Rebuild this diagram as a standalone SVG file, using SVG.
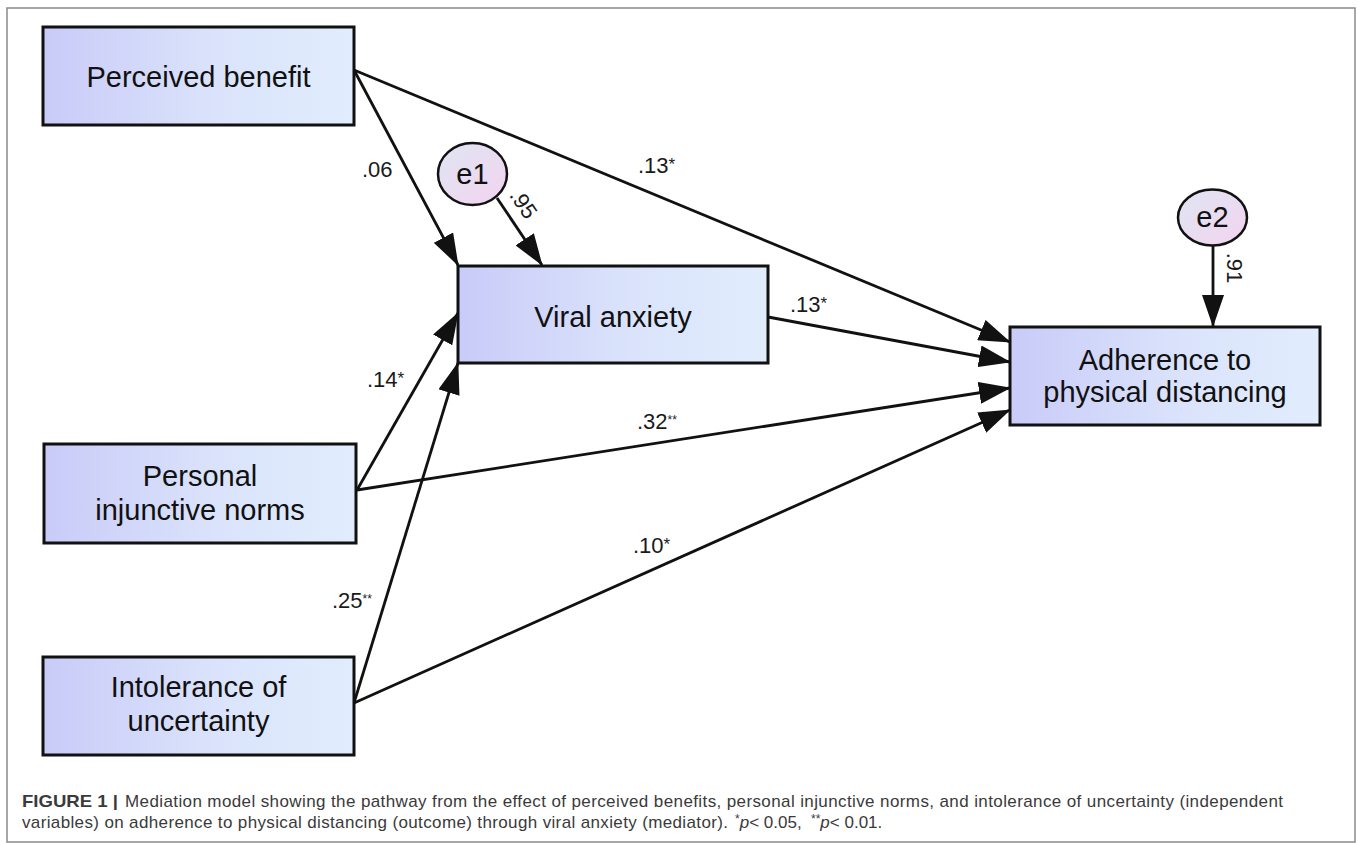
<svg xmlns="http://www.w3.org/2000/svg" width="1358" height="843" viewBox="0 0 1358 843">
<style>
.box{stroke:#111;stroke-width:3;fill:url(#boxg)}
.err{stroke:#111;stroke-width:2.5;fill:url(#errg)}
.nt{font-family:"Liberation Sans",Arial,sans-serif;font-size:29px;fill:#111;text-anchor:middle}
.lb{font-family:"Liberation Sans",Arial,sans-serif;font-size:22px;fill:#1a1a1a}
.st{font-size:17px}
.st2{font-size:12px}
.edge{stroke:#111;stroke-width:2.8;fill:none;marker-end:url(#arr)}
.cap{font-family:"Liberation Sans",Arial,sans-serif;font-size:17px;fill:#3a3a3a}
</style>
<defs>
<linearGradient id="boxg" x1="0" y1="0" x2="1" y2="0">
<stop offset="0" stop-color="#c9cbf8"/>
<stop offset="0.55" stop-color="#dae3fb"/>
<stop offset="1" stop-color="#e1edfd"/>
</linearGradient>
<linearGradient id="errg" x1="0" y1="0" x2="1" y2="1">
<stop offset="0" stop-color="#dfe6f2"/>
<stop offset="1" stop-color="#f3d3f0"/>
</linearGradient>
<marker id="arr" markerUnits="userSpaceOnUse" markerWidth="32" markerHeight="22" refX="31" refY="11" orient="auto">
<path d="M0,0 L32,11 L0,22 z" fill="#111"/>
</marker>
</defs>
<rect x="7" y="8" width="1348" height="834" fill="#fff" stroke="#8a8a8a" stroke-width="1.5"/>
<g id="connectors">
<line class="edge" x1="354" y1="70" x2="458" y2="265"/>
<line class="edge" x1="354" y1="70" x2="1010" y2="342"/>
<line class="edge" x1="497" y1="198" x2="542" y2="265"/>
<line class="edge" x1="357" y1="490" x2="458" y2="313"/>
<line class="edge" x1="354" y1="703" x2="458" y2="363"/>
<line class="edge" x1="768" y1="317" x2="1010" y2="362"/>
<line class="edge" x1="357" y1="490" x2="1010" y2="388"/>
<line class="edge" x1="354" y1="703" x2="1010" y2="410"/>
<line class="edge" x1="1213" y1="246" x2="1213" y2="326"/>
<text class="lb" x="362" y="177">.06</text>
<text class="lb" x="638" y="173">.13<tspan class="st" dy="-3">*</tspan></text>
<text class="lb" text-anchor="middle" transform="translate(523,204) rotate(56)" x="0" y="7">.95</text>
<text class="lb" text-anchor="middle" transform="translate(1234,268) rotate(90)" x="0" y="7">.91</text>
<text class="lb" x="790" y="312">.13<tspan class="st" dy="-3">*</tspan></text>
<text class="lb" x="367" y="387">.14<tspan class="st" dy="-3">*</tspan></text>
<text class="lb" x="637" y="429">.32<tspan class="st2" dy="-5">**</tspan></text>
<text class="lb" x="633" y="553">.10<tspan class="st" dy="-3">*</tspan></text>
<text class="lb" x="332" y="608">.25<tspan class="st2" dy="-5">**</tspan></text>
</g>
<g id="perceived-benefit">
<rect class="box" x="43" y="27" width="311" height="98"/>
<text class="nt" x="198.5" y="87">Perceived benefit</text>
</g>
<g id="viral-anxiety">
<rect class="box" x="458" y="266" width="310" height="97"/>
<text class="nt" x="613" y="327">Viral anxiety</text>
</g>
<g id="personal-injunctive-norms">
<rect class="box" x="44" y="444" width="312" height="99"/>
<text class="nt" x="200" y="486">Personal</text>
<text class="nt" x="200" y="520">injunctive norms</text>
</g>
<g id="intolerance-of-uncertainty">
<rect class="box" x="43" y="657" width="311" height="98"/>
<text class="nt" x="198.5" y="697">Intolerance of</text>
<text class="nt" x="198.5" y="731">uncertainty</text>
</g>
<g id="adherence">
<rect class="box" x="1010" y="327" width="310" height="98"/>
<text class="nt" x="1165" y="370">Adherence to</text>
<text class="nt" x="1165" y="402">physical distancing</text>
</g>
<g id="e1">
<ellipse class="err" cx="472.5" cy="174" rx="34.5" ry="31"/>
<text class="nt" x="472.5" y="184">e1</text>
</g>
<g id="e2">
<ellipse class="err" cx="1212.5" cy="217.5" rx="34.5" ry="28"/>
<text class="nt" x="1212.5" y="227">e2</text>
</g>
<g id="caption">
<text class="cap" x="22" y="807" font-weight="bold" fill="#222" textLength="96" lengthAdjust="spacingAndGlyphs">FIGURE 1 |</text>
<text class="cap" x="125" y="807" textLength="1158" lengthAdjust="spacing">Mediation model showing the pathway from the effect of perceived benefits, personal injunctive norms, and intolerance of uncertainty (independent</text>
<text class="cap" x="22" y="828" textLength="706" lengthAdjust="spacing">variables) on adherence to physical distancing (outcome) through viral anxiety (mediator).</text>
<text class="cap" x="735" y="828"><tspan font-size="12" dy="-5">*</tspan><tspan font-style="italic" dy="5">p</tspan>&lt; 0.05,</text>
<text class="cap" x="811" y="828"><tspan font-size="12" dy="-5">**</tspan><tspan font-style="italic" dy="5">p</tspan>&lt; 0.01.</text>
</g>
</svg>
